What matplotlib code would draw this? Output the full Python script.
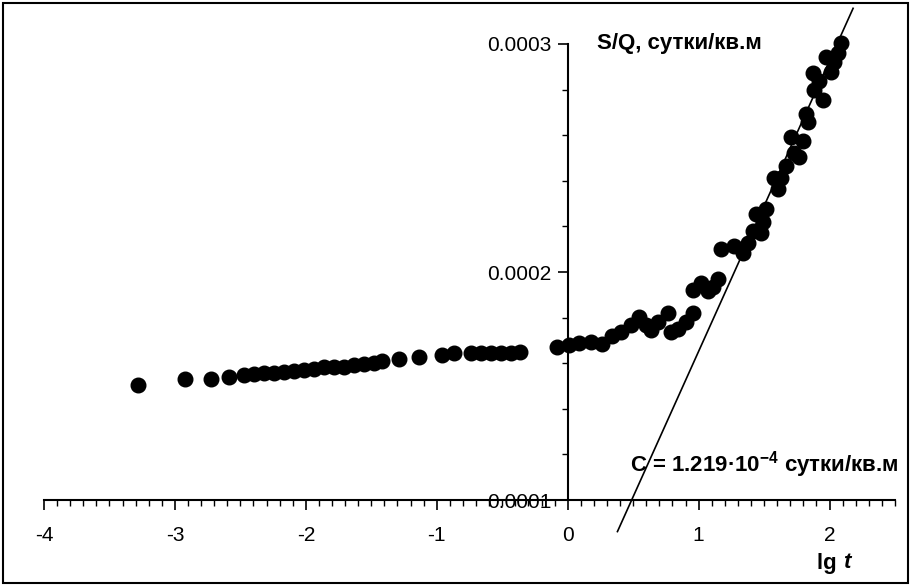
import numpy as np
import matplotlib
matplotlib.use("Agg")
import matplotlib.pyplot as plt
from matplotlib.ticker import MultipleLocator, FormatStrFormatter
from matplotlib.patches import Rectangle

plt.rcParams['font.family'] = ['Liberation Sans', 'DejaVu Sans']
plt.rcParams['axes.unicode_minus'] = False
plt.rcParams['mathtext.fontset'] = 'custom'
plt.rcParams['mathtext.rm'] = 'Liberation Sans'
plt.rcParams['mathtext.bf'] = 'Liberation Sans:bold'

# lg t
lg_t = [-3.285, -2.920, -2.722, -2.589, -2.475, -2.398, -2.322, -2.245, -2.169,
        -2.093, -2.016, -1.940, -1.863, -1.787, -1.710, -1.634, -1.557, -1.481,
        -1.417, -1.290, -1.137, -0.958, -0.869, -0.742, -0.665, -0.589, -0.512,
        -0.436, -0.365,
        -0.084, 0.008, 0.084, 0.176, 0.260, 0.336, 0.405, 0.482, 0.543, 0.596,
        0.635, 0.688, 0.765, 0.787, 0.841, 0.902, 0.956, 0.956, 1.017, 1.070,
        1.109, 1.147, 1.170, 1.269, 1.338, 1.376, 1.414, 1.476, 1.437, 1.514,
        1.491, 1.575, 1.628, 1.606, 1.667, 1.728, 1.766, 1.705, 1.797, 1.820,
        1.835, 1.881, 1.950, 1.873, 1.919, 2.011, 1.972, 2.034, 2.064, 2.087]
# S/Q, 1e-4 сутки/кв.м
s_q = [1.504, 1.529, 1.529, 1.538, 1.548, 1.551, 1.556, 1.558, 1.563,
       1.566, 1.570, 1.573, 1.582, 1.582, 1.585, 1.592, 1.596, 1.602,
       1.611, 1.617, 1.626, 1.636, 1.643, 1.646, 1.646, 1.646, 1.646,
       1.646, 1.650,
       1.671, 1.680, 1.689, 1.693, 1.684, 1.719, 1.737, 1.768, 1.803, 1.768,
       1.746, 1.781, 1.820, 1.737, 1.750, 1.781, 1.820, 1.921, 1.952, 1.917,
       1.934, 1.969, 2.101, 2.114, 2.083, 2.127, 2.180, 2.171, 2.254, 2.276,
       2.219, 2.412, 2.412, 2.364, 2.465, 2.522, 2.504, 2.592, 2.575, 2.693,
       2.658, 2.798, 2.754, 2.873, 2.838, 2.877, 2.943, 2.921, 2.961, 3.004]

# straight-line fit (1e-4 units)
fit_slope = 1.275
fit_intercept = 0.377
fit_range = [0.38, 2.18]

x = np.array(lg_t)
y = np.array(s_q) * 1e-4

fig = plt.figure(figsize=(9.11, 5.86), dpi=100)
ax = fig.add_axes([44 / 911, 86 / 586, 851 / 911, 456 / 586])

ax.plot(x, y, 'o', color='black', markersize=10.5, clip_on=False, zorder=3)
xf = np.array(fit_range)
ax.plot(xf, (fit_intercept + fit_slope * xf) * 1e-4, color='black', lw=1.2,
        clip_on=False, zorder=2)

ax.set_xlim(-4, 2.5)
ax.set_ylim(0.0001, 0.0003)
ax.spines['left'].set_position(('data', 0))
ax.spines['top'].set_visible(False)
ax.spines['right'].set_visible(False)
ax.spines['left'].set_linewidth(1.5)
ax.spines['bottom'].set_linewidth(1.5)

ax.xaxis.set_major_locator(MultipleLocator(1))
ax.xaxis.set_minor_locator(MultipleLocator(0.1))
ax.yaxis.set_major_locator(MultipleLocator(0.0001))
ax.yaxis.set_minor_locator(MultipleLocator(0.00002))
ax.yaxis.set_major_formatter(FormatStrFormatter('%.4f'))
ax.tick_params(axis='x', which='major', direction='out', length=7, width=1.2,
               labelsize=15, pad=12)
ax.tick_params(axis='x', which='minor', direction='out', length=4, width=1)
ax.tick_params(axis='y', which='major', direction='out', length=7, width=1.2,
               labelsize=15, pad=5)
ax.tick_params(axis='y', which='minor', direction='out', length=4, width=1)

fig.text(597 / 911, 1 - 44 / 586, 'S/Q, сутки/кв.м', fontsize=16,
         fontweight='bold', va='center', ha='left')
fig.text(630 / 911, 1 - 465 / 586, r'C = 1.219·10$^{\mathbf{-4}}$ сутки/кв.м',
         fontsize=16, fontweight='bold', va='center', ha='left')
fig.text(843 / 911, 1 - 563 / 586, 'lg ', fontsize=16, fontweight='bold',
         va='center', ha='right')
fig.text(843 / 911, 1 - 563 / 586, 't', fontsize=16, fontweight='bold',
         fontstyle='italic', va='center', ha='left')

fig.patches.append(Rectangle((3 / 911, 3 / 586), 905 / 911, 580 / 586,
                             transform=fig.transFigure, fill=False,
                             edgecolor='black', lw=1.5))

fig.savefig('out.png', dpi=100)
